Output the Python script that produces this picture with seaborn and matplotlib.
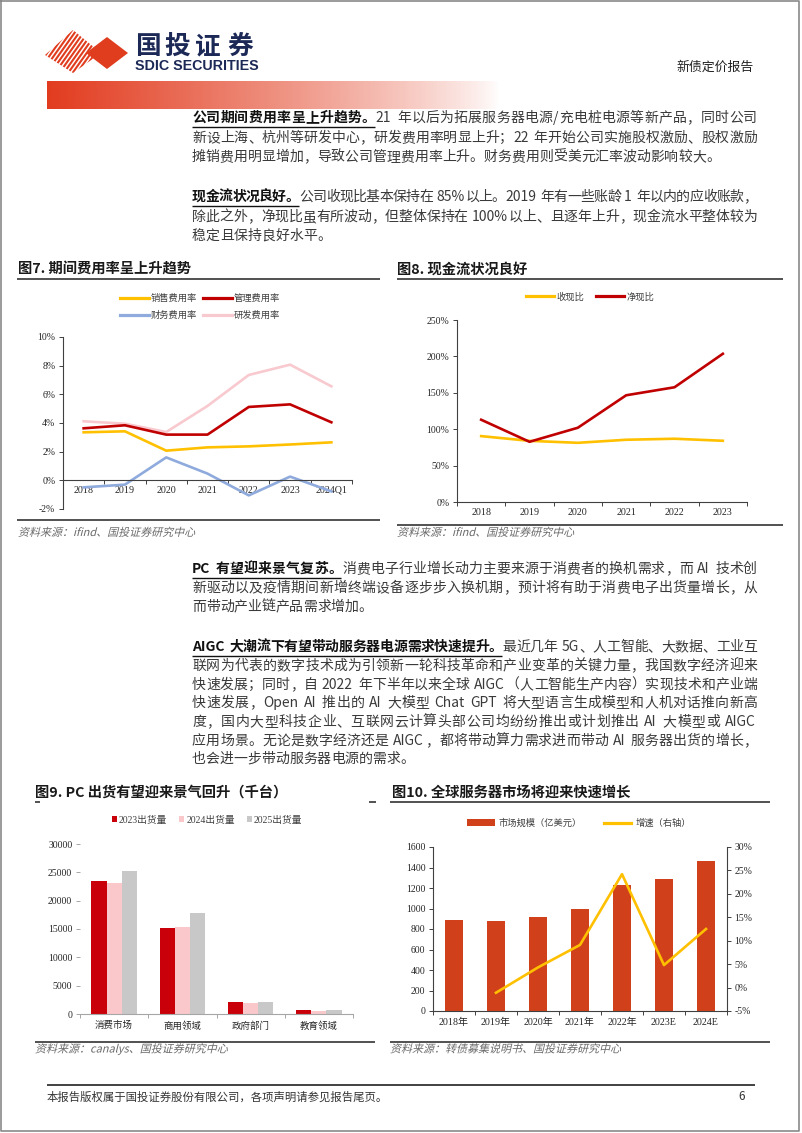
import numpy as np
import pandas as pd
import matplotlib
matplotlib.use("Agg")
import matplotlib.pyplot as plt
import seaborn as sns
from matplotlib.lines import Line2D
from matplotlib.patches import Patch, Polygon, PathPatch
from matplotlib.textpath import TextPath
from matplotlib.font_manager import FontProperties
from matplotlib.transforms import Affine2D
from matplotlib.ticker import FixedLocator, FuncFormatter

# ---------------- data ----------------
exp_years = ["2018", "2019", "2020", "2021", "2022", "2023", "2024Q1"]
sales_rate = [3.35, 3.42, 2.07, 2.30, 2.37, 2.50, 2.65]
mgmt_rate = [3.63, 3.84, 3.19, 3.19, 5.12, 5.30, 4.05]
fin_rate = [-0.49, -0.30, 1.60, 0.47, -1.05, 0.26, -0.77]
rd_rate = [4.12, 3.95, 3.37, 5.19, 7.35, 8.07, 6.56]
exp_names = ["销售费用率", "管理费用率", "财务费用率", "研发费用率"]

cf_years = ["2018", "2019", "2020", "2021", "2022", "2023"]
cash_rev_ratio = [90.5, 84.0, 81.3, 85.5, 86.9, 84.1]
net_cash_ratio = [113.0, 82.7, 102.0, 146.6, 157.6, 203.6]
cf_names = ["收现比", "净现比"]

pc_segments = ["消费市场", "商用领域", "政府部门", "教育领域"]
pc_2023 = [23470, 15110, 2180, 760]
pc_2024 = [23170, 15290, 1940, 530]
pc_2025 = [25230, 17820, 2120, 710]
pc_names = ["2023出货量", "2024出货量", "2025出货量"]

srv_years = ["2018年", "2019年", "2020年", "2021年", "2022年", "2023E", "2024E"]
srv_size = [885, 878, 914, 993, 1231, 1286, 1459]
growth_years = ["2019年", "2020年", "2021年", "2022年", "2023E", "2024E"]
srv_growth = [-1.1, 4.3, 9.1, 24.2, 4.8, 12.5]
srv_names = ["市场规模（亿美元）", "增速（右轴）"]

# ---------------- style ----------------
W, H = 802, 1133
CJK = "Noto Sans CJK SC"
SERIF = ["Liberation Serif", CJK]
plt.rcParams["font.family"] = SERIF
plt.rcParams["axes.unicode_minus"] = False

C_YEL = "#FFC000"
C_RED = "#C00000"
C_BLUE = "#8FAADC"
C_PINK = "#F8C9CE"
C_BAR = "#D0401A"
PC_COLORS = ["#C9000A", "#FAC8CB", "#C8C8C8"]
LOGO_RED = "#E03C1E"
NAVY = "#1C2957"
HEAD_C = "#111111"
BODY_C = "#3A3A3A"
AX_C = "#404040"
XTICK_FS = 7.2
YTICK_FS = 7.0

fig = plt.figure(figsize=(W / 100, H / 100), dpi=100, facecolor="white")
page = fig.add_axes([0, 0, 1, 1])
page.set_xlim(0, W)
page.set_ylim(H, 0)
page.axis("off")
renderer = fig.canvas.get_renderer()


def rect(x0, y0, x1, y1):
    return [x0 / W, 1 - y1 / H, (x1 - x0) / W, (y1 - y0) / H]


def fpos(x, y):
    return (x / W, 1 - y / H)


def text_width(s, **kw):
    t = page.text(0, 0, s, **kw)
    w = t.get_window_extent(renderer).width
    t.remove()
    return w


def hline(x0, x1, y, lw=1.2, color="#333333"):
    page.plot([x0, x1], [y, y], color=color, lw=lw, solid_capstyle="butt")


def italic_text(x, y_base, s, size_px, color):
    tp = TextPath((0, 0), s, size=size_px, prop=FontProperties(family=CJK))
    tr = Affine2D().skew_deg(14, 0).scale(1, -1).translate(x, y_base)
    page.add_patch(PathPatch(tr.transform_path(tp), facecolor=color,
                             edgecolor="none", lw=0))


# ---------------- page frame & header ----------------
page.plot([1, 799, 799, 1, 1], [1, 1, 1131, 1131, 1], color="#8A8A8A", lw=1.2)

grad = np.zeros((1, 256, 4))
grad[0, :, :3] = matplotlib.colors.to_rgb("#E23B1E")
grad[0, :, 3] = np.linspace(1, 0, 256) ** 0.8
page.imshow(grad, extent=(47, 500, 109, 81), aspect="auto",
            interpolation="bilinear", zorder=0)
page.set_xlim(0, W)
page.set_ylim(H, 0)

stripe_clip = Polygon([(45, 55), (73, 30), (101, 53), (73, 73)], closed=True,
                      facecolor="none", edgecolor="none")
page.add_patch(stripe_clip)
for k in range(-4, 22):
    x0 = 22 + k * 4.4
    ln, = page.plot([x0, x0 + 34], [76, 28], color=LOGO_RED, lw=1.5,
                    solid_capstyle="butt")
    ln.set_clip_path(stripe_clip)
page.add_patch(Polygon([(86, 53), (107, 37), (128, 53), (107, 69)],
                       closed=True, facecolor=LOGO_RED, edgecolor="none"))

for ch, cx in zip("国投证券", [148, 177, 207, 240]):
    page.text(cx, 46.5, ch, ha="center", va="center", fontsize=18.5,
              family=[CJK], fontweight="heavy", color=NAVY)
sdic_kw = dict(family=["Liberation Sans Narrow", "Liberation Sans"],
               fontweight="bold", color=NAVY)
sw = text_width("SDIC SECURITIES", fontsize=11, **sdic_kw)
page.text(135, 65.5, "SDIC SECURITIES", ha="left", va="center",
          fontsize=11 * 123 / sw, **sdic_kw)
page.text(676, 67, "新债定价报告", ha="left", va="center", fontsize=9.3,
          family=[CJK], color="#222222")

# ---------------- body text ----------------
BODY_FS = 10.0
FS_PX = BODY_FS * 100 / 72
SPACE_W = 0.3 * FS_PX

body_lines = [
    (118, [("公司期间费用率呈上升趋势。", True),
           ("21 年以后为拓展服务器电源/充电桩电源等新产品，同时公司", False)], True),
    (138, [("新设上海、杭州等研发中心，研发费用率明显上升；22 年开始公司实施股权激励、股权激励", False)], True),
    (157, [("摊销费用明显增加，导致公司管理费用率上升。财务费用则受美元汇率波动影响较大。", False)], False),
    (197, [("现金流状况良好。", True),
           ("公司收现比基本保持在 85%以上。2019 年有一些账龄 1 年以内的应收账款，", False)], True),
    (217, [("除此之外，净现比虽有所波动，但整体保持在 100%以上、且逐年上升，现金流水平整体较为", False)], True),
    (236, [("稳定且保持良好水平。", False)], False),
    (569, [("PC 有望迎来景气复苏。", True),
           ("消费电子行业增长动力主要来源于消费者的换机需求，而 AI 技术创", False)], True),
    (588, [("新驱动以及疫情期间新增终端设备逐步步入换机期，预计将有助于消费电子出货量增长，从", False)], True),
    (607, [("而带动产业链产品需求增加。", False)], False),
    (647, [("AIGC 大潮流下有望带动服务器电源需求快速提升。", True),
           ("最近几年 5G、人工智能、大数据、工业互", False)], True),
    (666, [("联网为代表的数字技术成为引领新一轮科技革命和产业变革的关键力量，我国数字经济迎来", False)], True),
    (685, [("快速发展；同时，自 2022 年下半年以来全球 AIGC（人工智能生产内容）实现技术和产业端", False)], True),
    (703, [("快速发展，Open AI 推出的 AI 大模型 Chat GPT 将大型语言生成模型和人机对话推向新高", False)], True),
    (722, [("度，国内大型科技企业、互联网云计算头部公司均纷纷推出或计划推出 AI 大模型或 AIGC", False)], True),
    (741, [("应用场景。无论是数字经济还是 AIGC，都将带动算力需求进而带动 AI 服务器出货的增长，", False)], True),
    (759, [("也会进一步带动服务器电源的需求。", False)], False),
]


def tokenize(s):
    out, buf = [], ""
    for ch in s:
        if ch.isascii() and ch != " ":
            buf += ch
        else:
            if buf:
                out.append(buf)
                buf = ""
            out.append(ch)
    if buf:
        out.append(buf)
    return out


def body_line(y, segments, justify, x0=192, x1=757):
    items = []
    for s, bold in segments:
        kw = dict(fontsize=BODY_FS, family=[CJK],
                  fontweight="bold" if bold else "normal",
                  color=HEAD_C if bold else BODY_C)
        for tok in tokenize(s):
            if tok == " ":
                w = SPACE_W
            elif not tok.isascii():
                w = FS_PX
            else:
                w = text_width(tok, **kw) + 1.0
            items.append((tok, w, kw, bold))
    total = sum(it[1] for it in items)
    gap = (x1 - x0 - total) / (len(items) - 1) if justify else 0.0
    x = x0
    bold_end = None
    for tok, w, kw, bold in items:
        if tok != " ":
            page.text(x, y, tok, ha="left", va="center", **kw)
        x += w
        if bold:
            bold_end = x
        x += gap
    if bold_end is not None:
        hline(x0, bold_end - 1, y + 9, lw=1.0, color=HEAD_C)


for y, segs, just in body_lines:
    body_line(y, segs, just)

# ---------------- titles, rules, sources ----------------
TITLE_KW = dict(fontsize=10.3, family=[CJK], fontweight="bold", color="#1A1A1A",
                ha="left", va="center")
SRC_PX = 11.0
SRC_C = "#6A6A6A"

page.text(18, 270, "图7. 期间费用率呈上升趋势", **TITLE_KW)
hline(17, 380, 279)
page.text(397, 270, "图8. 现金流状况良好", **TITLE_KW)
hline(397, 783, 279)
hline(17, 380, 520)
italic_text(18, 536, "资料来源：ifind、国投证券研究中心", SRC_PX, SRC_C)
hline(397, 783, 525)
italic_text(397, 536, "资料来源：ifind、国投证券研究中心", SRC_PX, SRC_C)

page.text(35, 793, "图9. PC 出货有望迎来景气回升（千台）", **TITLE_KW)
hline(35, 40, 801.5)
hline(369, 376, 801.5)
page.text(392, 793, "图10. 全球服务器市场将迎来快速增长", **TITLE_KW)
hline(390, 770, 802)
hline(35, 375, 1041.5)
italic_text(35, 1052.5, "资料来源：canalys、国投证券研究中心", SRC_PX, SRC_C)
hline(390, 770, 1041.5)
italic_text(390, 1052.5, "资料来源：转债募集说明书、国投证券研究中心", SRC_PX, SRC_C)

hline(47, 755, 1085, lw=1.3)
page.text(47, 1097, "本报告版权属于国投证券股份有限公司，各项声明请参见报告尾页。",
          fontsize=8.2, family=[CJK], color="#333333", ha="left", va="center")
page.text(738, 1097, "6", fontsize=8.5, family=[CJK], color="#333333",
          ha="left", va="center")

LEG_PROP = {"family": [CJK], "size": 6.7}


def base_axes(r):
    ax = fig.add_axes(r)
    ax.patch.set_alpha(0)
    for s in ax.spines.values():
        s.set_visible(False)
        s.set_color(AX_C)
        s.set_linewidth(0.8)
    ax.set_xlabel("")
    ax.set_ylabel("")
    return ax


def finish_axes(ax, n, label_pad, ycolor=AX_C, xcolor=AX_C):
    ax.set_xlim(-0.5, n - 0.5)
    ax.xaxis.set_minor_locator(FixedLocator(np.arange(-0.5, n, 1.0)))
    ax.tick_params(axis="x", which="major", length=0, pad=label_pad,
                   labelsize=XTICK_FS, labelcolor="#262626")
    ax.tick_params(axis="x", which="minor", length=3, width=0.7,
                   direction="out", color=xcolor)
    ax.tick_params(axis="y", which="major", length=3, width=0.7,
                   direction="out", color=ycolor, pad=2.5,
                   labelsize=YTICK_FS, labelcolor="#262626")
    ax.set_xlabel("")
    ax.set_ylabel("")


# ---------------- chart 7 ----------------
ax7 = base_axes(rect(63, 337, 352, 509))
df7 = pd.DataFrame({
    "year": exp_years * 4,
    "rate": sales_rate + mgmt_rate + fin_rate + rd_rate,
    "series": sum([[n] * len(exp_years) for n in exp_names], []),
})
pal7 = dict(zip(exp_names, [C_YEL, C_RED, C_BLUE, C_PINK]))
sns.lineplot(data=df7, x="year", y="rate", hue="series",
             hue_order=["研发费用率", "财务费用率", "销售费用率", "管理费用率"],
             palette=pal7, linewidth=1.9, legend=False, sort=False, ax=ax7)
ax7.set_ylim(-2, 10)
ax7.yaxis.set_major_locator(FixedLocator(range(-2, 11, 2)))
ax7.yaxis.set_major_formatter(FuncFormatter(lambda v, p: f"{v:.0f}%"))
ax7.spines["left"].set_visible(True)
ax7.spines["bottom"].set_visible(True)
ax7.spines["bottom"].set_position(("data", 0))
finish_axes(ax7, len(exp_years), 4.0)
leg_order7 = ["销售费用率", "财务费用率", "管理费用率", "研发费用率"]
ax7.legend([Line2D([], [], color=pal7[n], lw=2.3) for n in leg_order7], leg_order7,
           ncol=2, loc="center", bbox_to_anchor=fpos(200, 307),
           bbox_transform=fig.transFigure, frameon=False, prop=LEG_PROP,
           handlelength=3.1, handletextpad=0.25, columnspacing=0.6,
           labelspacing=0.8, borderpad=0, borderaxespad=0, labelcolor="#404040")

# ---------------- chart 8 ----------------
ax8 = base_axes(rect(457, 320, 747, 502))
df8 = pd.DataFrame({
    "year": cf_years * 2,
    "ratio": cash_rev_ratio + net_cash_ratio,
    "series": sum([[n] * len(cf_years) for n in cf_names], []),
})
pal8 = dict(zip(cf_names, [C_YEL, C_RED]))
sns.lineplot(data=df8, x="year", y="ratio", hue="series", hue_order=cf_names,
             palette=pal8, linewidth=1.9, legend=False, sort=False, ax=ax8)
ax8.set_ylim(0, 250)
ax8.yaxis.set_major_locator(FixedLocator(range(0, 251, 50)))
ax8.yaxis.set_major_formatter(FuncFormatter(lambda v, p: f"{v:.0f}%"))
ax8.spines["left"].set_visible(True)
ax8.spines["bottom"].set_visible(True)
finish_axes(ax8, len(cf_years), 4.0)
ax8.legend([Line2D([], [], color=pal8[n], lw=2.3) for n in cf_names], cf_names,
           ncol=2, loc="center", bbox_to_anchor=fpos(590, 297),
           bbox_transform=fig.transFigure, frameon=False, prop=LEG_PROP,
           handlelength=3.0, handletextpad=0.25, columnspacing=1.3,
           borderpad=0, borderaxespad=0, labelcolor="#404040")

# ---------------- chart 9 ----------------
ax9 = base_axes(rect(80, 844, 353, 1014))
df9 = pd.DataFrame({
    "segment": pc_segments * 3,
    "value": pc_2023 + pc_2024 + pc_2025,
    "series": sum([[n] * len(pc_segments) for n in pc_names], []),
})
sns.barplot(data=df9, x="segment", y="value", hue="series", order=pc_segments,
            hue_order=pc_names, palette=PC_COLORS, width=0.667, gap=0,
            saturation=1, errorbar=None, linewidth=0, legend=False, ax=ax9)
ax9.set_ylim(0, 30000)
ax9.yaxis.set_major_locator(FixedLocator(range(0, 30001, 5000)))
ax9.yaxis.set_major_formatter(FuncFormatter(lambda v, p: f"{v:.0f}"))
ax9.spines["bottom"].set_visible(True)
ax9.spines["bottom"].set_color("#A6A6A6")
finish_axes(ax9, len(pc_segments), 5.0, ycolor="#A6A6A6", xcolor="#A6A6A6")
ax9.tick_params(axis="x", which="major", labelsize=6.8)
ax9.legend([Patch(facecolor=c, edgecolor="none") for c in PC_COLORS], pc_names,
           ncol=3, loc="center", bbox_to_anchor=fpos(207, 820),
           bbox_transform=fig.transFigure, frameon=False,
           prop={"family": SERIF, "size": 7.0},
           handlelength=0.55, handleheight=0.55, handletextpad=0.2,
           columnspacing=1.2, borderpad=0, borderaxespad=0, labelcolor="#404040")

# ---------------- chart 10 ----------------
ax10 = base_axes(rect(433, 847, 727, 1011))
pos10 = list(range(len(srv_years)))
sns.barplot(x=pos10, y=srv_size, native_scale=True, color=C_BAR, width=0.41,
            saturation=1, errorbar=None, linewidth=0, ax=ax10)
ax10.set_ylim(0, 1600)
ax10.yaxis.set_major_locator(FixedLocator(range(0, 1601, 200)))
ax10.yaxis.set_major_formatter(FuncFormatter(lambda v, p: f"{v:.0f}"))
ax10.set_xticks(pos10, srv_years)
for s in ["left", "bottom", "right"]:
    ax10.spines[s].set_visible(True)
finish_axes(ax10, len(srv_years), 5.0)

ax10b = ax10.twinx()
ax10b.patch.set_alpha(0)
for s in ax10b.spines.values():
    s.set_visible(False)
sns.lineplot(x=[srv_years.index(g) for g in growth_years], y=srv_growth,
             color=C_YEL, linewidth=1.9, sort=False, ax=ax10b)
ax10b.set_ylim(-5, 30)
ax10b.yaxis.set_major_locator(FixedLocator(range(-5, 31, 5)))
ax10b.yaxis.set_major_formatter(FuncFormatter(lambda v, p: f"{v:.0f}%"))
ax10b.tick_params(axis="y", length=3, width=0.7, direction="out", color=AX_C,
                  pad=2.5, labelsize=YTICK_FS, labelcolor="#262626")
ax10b.set_ylabel("")
ax10.set_xlim(-0.5, len(srv_years) - 0.5)
ax10.legend([Patch(facecolor=C_BAR, edgecolor="none"),
             Line2D([], [], color=C_YEL, lw=2.3)], srv_names,
            ncol=2, loc="center", bbox_to_anchor=fpos(579, 823),
            bbox_transform=fig.transFigure, frameon=False, prop=LEG_PROP,
            handlelength=3.0, handleheight=0.65, handletextpad=0.45,
            columnspacing=2.3, borderpad=0, borderaxespad=0, labelcolor="#404040")

fig.savefig("out.png", dpi=100, facecolor="white")
